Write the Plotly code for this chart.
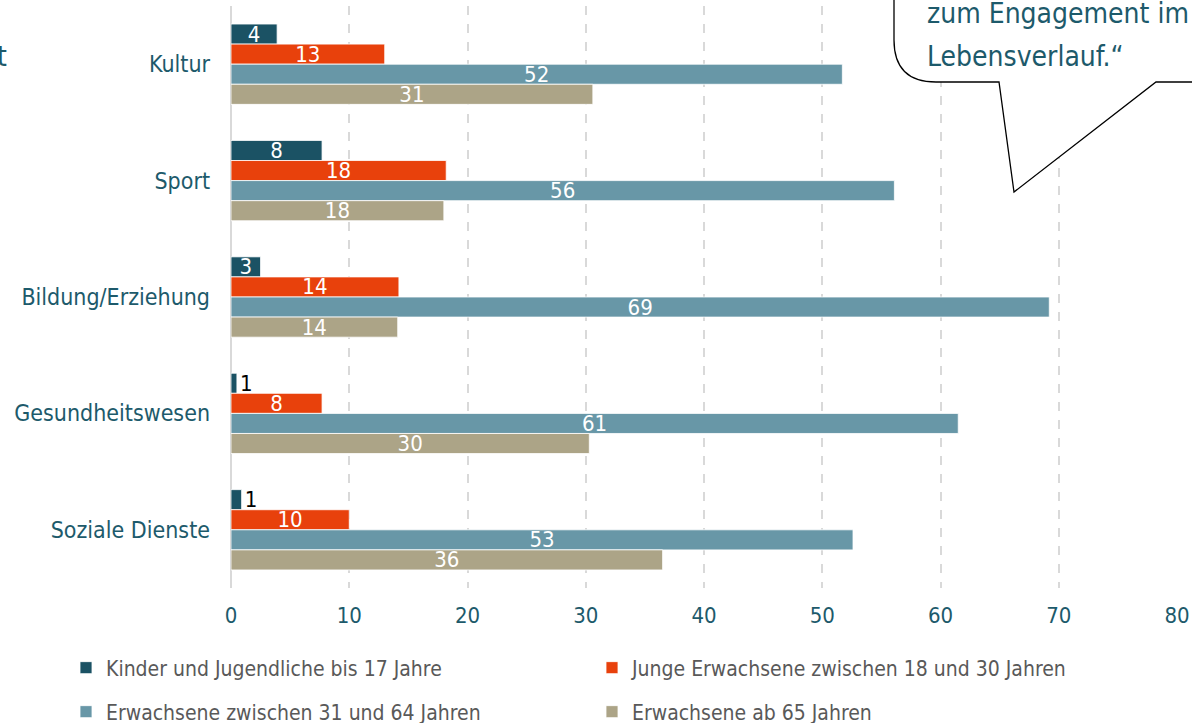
"""Engagementbereiche nach Altersgruppen – horizontales Balkendiagramm"""

import plotly.graph_objects as go

# Kategorien (von oben nach unten)
bereiche = ["Kultur", "Sport", "Bildung/Erziehung", "Gesundheitswesen", "Soziale Dienste"]

# Werte in Prozent (Balkenlänge) und gerundete Beschriftung
kinder = [3.9, 7.7, 2.5, 0.5, 0.9]
kinder_text = ["4", "8", "3", "1", "1"]
junge = [13.0, 18.2, 14.2, 7.7, 10.0]
junge_text = ["13", "18", "14", "8", "10"]
erwachsene = [51.7, 56.1, 69.2, 61.5, 52.6]
erwachsene_text = ["52", "56", "69", "61", "53"]
senioren = [30.6, 18.0, 14.1, 30.3, 36.5]
senioren_text = ["31", "18", "14", "30", "36"]

x_ticks = [0, 10, 20, 30, 40, 50, 60, 70, 80]

FONT = "DejaVu Sans Condensed"
TEAL = "#1d5a6b"

serien = [
    ("Kinder und Jugendliche bis 17 Jahre", kinder, kinder_text, "#1b5264", "legend"),
    ("Junge Erwachsene zwischen 18 und 30 Jahren", junge, junge_text, "#e8410c", "legend"),
    ("Erwachsene zwischen 31 und 64 Jahren", erwachsene, erwachsene_text, "#6897a7", "legend2"),
    ("Erwachsene ab 65 Jahren", senioren, senioren_text, "#aca487", "legend2"),
]

fig = go.Figure()
for name, werte, texte, farbe, leg in serien:
    fig.add_trace(
        go.Bar(
            y=bereiche,
            x=werte,
            name=name,
            orientation="h",
            text=texte,
            textposition="auto",
            textangle=0,
            insidetextanchor="middle",
            insidetextfont=dict(color="white", size=22, family=FONT),
            outsidetextfont=dict(color="black", size=22, family=FONT),
            marker=dict(color=farbe, line=dict(color="white", width=0.8)),
            legend=leg,
            cliponaxis=False,
        )
    )

W, H = 1192, 723
L, R, T, B = 231, 15, 6, 135
pw, ph = W - L - R, H - T - B


def px(x):
    return (x - L) / pw


def py(y):
    return (H - B - y) / ph


# Sprechblase oben rechts
blase = (
    f"M {px(894)},{py(-20)} L {px(894)},{py(40)} "
    f"Q {px(894)},{py(82)} {px(936)},{py(82)} "
    f"L {px(999)},{py(82)} L {px(1014)},{py(192)} L {px(1156)},{py(82)} "
    f"L {px(1220)},{py(82)} L {px(1220)},{py(-20)} Z"
)

legend_style = dict(
    orientation="h",
    font=dict(family=FONT, size=21, color="#595959"),
    entrywidth=481,
    xanchor="left",
    yanchor="middle",
    x=px(66),
    bgcolor="rgba(0,0,0,0)",
    itemclick=False,
)

fig.update_layout(
    width=W,
    height=H,
    margin=dict(l=L, r=R, t=T, b=B, autoexpand=False),
    plot_bgcolor="white",
    paper_bgcolor="white",
    font=dict(family=FONT, size=22, color=TEAL),
    barmode="group",
    bargap=0.31,
    bargroupgap=0,
    uniformtext=dict(mode="show", minsize=22),
    showlegend=True,
    legend=dict(legend_style, y=py(668)),
    legend2=dict(legend_style, y=py(712)),
    xaxis=dict(
        range=[0, 80],
        tickvals=x_ticks,
        showgrid=True,
        gridcolor="#d9d9d9",
        gridwidth=2,
        griddash="dash",
        zeroline=True,
        zerolinecolor="#d9d9d9",
        zerolinewidth=2,
        showline=False,
        ticks="",
        ticklabelstandoff=12,
        automargin=False,
        tickfont=dict(family=FONT, size=22, color=TEAL),
    ),
    yaxis=dict(
        categoryorder="array",
        categoryarray=bereiche,
        autorange="reversed",
        showgrid=False,
        zeroline=False,
        showline=False,
        ticks="",
        ticklabelstandoff=20,
        automargin=False,
        tickfont=dict(family=FONT, size=23, color=TEAL),
    ),
    shapes=[
        dict(
            type="path",
            xref="paper",
            yref="paper",
            path=blase,
            fillcolor="white",
            line=dict(color="black", width=1.3),
            layer="above",
        )
    ],
    annotations=[
        dict(
            text="zum Engagement im",
            xref="paper", yref="paper",
            x=px(925), y=py(14),
            xanchor="left", yanchor="middle",
            showarrow=False,
            font=dict(family=FONT, size=28, color=TEAL),
        ),
        dict(
            text="Lebensverlauf.“",
            xref="paper", yref="paper",
            x=px(925), y=py(56),
            xanchor="left", yanchor="middle",
            showarrow=False,
            font=dict(family=FONT, size=28, color=TEAL),
        ),
        dict(
            text="t",
            xref="paper", yref="paper",
            x=px(9), y=py(56),
            xanchor="right", yanchor="middle",
            showarrow=False,
            font=dict(family=FONT, size=28, color=TEAL),
        ),
    ],
)

# Seitenrand des Browsers entfernen, damit die Grafik bündig sitzt
fig.write_html(
    "out.html",
    config={"displayModeBar": False},
    post_script="document.body.style.margin = '0';",
)
